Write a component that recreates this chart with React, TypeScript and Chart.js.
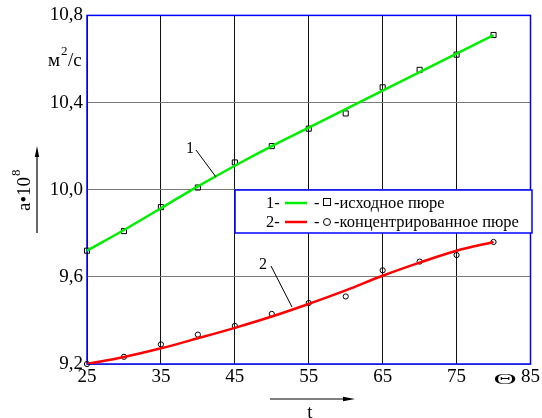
import React, { useEffect, useRef } from "react";
import { Chart, registerables } from "chart.js";

Chart.register(...registerables);

const tValues = [25, 30, 35, 40, 45, 50, 55, 60, 65, 70, 75, 80];
const series1Points = [9.72, 9.81, 9.92, 10.01, 10.125, 10.2, 10.28, 10.35, 10.47, 10.55, 10.62, 10.71];
const series2Points = [9.2, 9.233, 9.29, 9.335, 9.375, 9.43, 9.48, 9.51, 9.63, 9.67, 9.7, 9.76];
const series1Fit = [9.72, 9.815, 9.915, 10.015, 10.11, 10.2, 10.285, 10.37, 10.455, 10.54, 10.625, 10.71];
const series2Fit = [9.2, 9.232, 9.272, 9.318, 9.366, 9.418, 9.476, 9.538, 9.605, 9.665, 9.72, 9.76];
const xTicks = [25, 35, 45, 55, 65, 75, 85];
const yTicks = [9.2, 9.6, 10.0, 10.4, 10.8];
const legendLabels = ["-исходное пюре", "-концентрированное пюре"];

const SERIF = '"Liberation Serif", serif';

const toXY = (ys: number[]) => tValues.map((x, i) => ({ x, y: ys[i] }));

export default function App() {
  const ref = useRef<HTMLCanvasElement>(null);

  useEffect(() => {
    let chart: any = null;
    let cancelled = false;

    const frame = {
      id: "frame",
      beforeDatasetsDraw(c: any) {
        const { ctx, chartArea: a } = c;
        ctx.save();
        ctx.strokeStyle = "#0000ff";
        ctx.lineWidth = 1.5;
        ctx.strokeRect(a.left, a.top, a.right - a.left, a.bottom - a.top);
        ctx.restore();
      },
    };

    const overlay = {
      id: "overlay",
      afterDraw(c: any) {
        const { ctx } = c;
        ctx.save();
        ctx.fillStyle = "#000";
        ctx.strokeStyle = "#000";
        ctx.textBaseline = "alphabetic";

        // unit м²/с
        ctx.font = `19px ${SERIF}`;
        ctx.textAlign = "left";
        ctx.fillText("м", 48, 66);
        const w = ctx.measureText("м").width;
        ctx.font = `13px ${SERIF}`;
        ctx.fillText("2", 48 + w + 1, 55);
        const w2 = ctx.measureText("2").width;
        ctx.font = `19px ${SERIF}`;
        ctx.fillText("/с", 48 + w + w2 + 1.5, 66);

        // y axis title a•10^8 (rotated)
        ctx.save();
        ctx.translate(30, 190);
        ctx.rotate(-Math.PI / 2);
        ctx.font = `19px ${SERIF}`;
        ctx.textAlign = "left";
        const base = "a•10";
        const bw = ctx.measureText(base).width;
        ctx.fillText(base, -21, 0);
        ctx.font = `13px ${SERIF}`;
        ctx.fillText("8", -21 + bw + 1, -10);
        ctx.restore();

        // y arrow
        ctx.lineWidth = 1.2;
        ctx.beginPath();
        ctx.moveTo(37, 233);
        ctx.lineTo(37, 152);
        ctx.stroke();
        ctx.beginPath();
        ctx.moveTo(37, 146);
        ctx.lineTo(34.8, 157);
        ctx.lineTo(39.2, 157);
        ctx.closePath();
        ctx.fill();

        // x arrow and t
        ctx.beginPath();
        ctx.moveTo(270, 399);
        ctx.lineTo(348, 399);
        ctx.stroke();
        ctx.beginPath();
        ctx.moveTo(355, 399);
        ctx.lineTo(343, 396.8);
        ctx.lineTo(343, 401.2);
        ctx.closePath();
        ctx.fill();
        ctx.font = `19px ${SERIF}`;
        ctx.textAlign = "center";
        ctx.fillText("t", 310, 418);

        // theta symbol near 85
        ctx.save();
        ctx.translate(505, 384);
        ctx.scale(2.0, 0.85);
        ctx.font = `16px ${SERIF}`;
        ctx.textAlign = "center";
        ctx.fillText("Θ", 0, 0);
        ctx.restore();

        // curve annotations
        ctx.font = `16px ${SERIF}`;
        ctx.textAlign = "center";
        ctx.fillText("1", 190, 153);
        ctx.fillText("2", 263, 269);
        ctx.lineWidth = 1;
        ctx.beginPath();
        ctx.moveTo(196, 150);
        ctx.lineTo(216, 177);
        ctx.moveTo(271, 266);
        ctx.lineTo(292, 307);
        ctx.stroke();

        // legend box
        const lx = 235, ly = 190, lw = 297, lh = 43;
        ctx.fillStyle = "#fff";
        ctx.fillRect(lx, ly, lw, lh);
        ctx.strokeStyle = "#0000ff";
        ctx.lineWidth = 1.5;
        ctx.strokeRect(lx, ly, lw, lh);

        const rows = [
          { num: "1-", color: "#00ee00", marker: "rect", label: legendLabels[0], y: 208 },
          { num: "2-", color: "#ff0000", marker: "circle", label: legendLabels[1], y: 227 },
        ];
        ctx.font = `16.5px ${SERIF}`;
        ctx.textAlign = "left";
        for (const r of rows) {
          ctx.fillStyle = "#000";
          ctx.fillText(r.num, 266, r.y);
          ctx.strokeStyle = r.color;
          ctx.lineWidth = 2.5;
          ctx.beginPath();
          ctx.moveTo(285, r.y - 5);
          ctx.lineTo(307, r.y - 5);
          ctx.stroke();
          ctx.fillStyle = "#000";
          ctx.fillText("-", 314, r.y);
          ctx.strokeStyle = "#000";
          ctx.lineWidth = 1;
          if (r.marker === "rect") {
            ctx.strokeRect(323.5, r.y - 9.5, 7, 7);
          } else {
            ctx.beginPath();
            ctx.arc(327, r.y - 5, 3.5, 0, Math.PI * 2);
            ctx.stroke();
          }
          ctx.fillText(r.label, 334, r.y);
        }
        ctx.restore();
      },
    };

    const build = () => {
      if (cancelled || !ref.current) return;
      chart = new Chart(ref.current as HTMLCanvasElement, {
        type: "line",
        data: {
          datasets: [
            {
              data: toXY(series1Fit),
              borderColor: "#00ee00",
              borderWidth: 2.5,
              pointRadius: 0,
              tension: 0.4,
              fill: false,
            },
            {
              data: toXY(series2Fit),
              borderColor: "#ff0000",
              borderWidth: 2.5,
              pointRadius: 0,
              tension: 0.4,
              fill: false,
            },
            {
              data: toXY(series1Points),
              showLine: false,
              pointStyle: "rect",
              pointRadius: 3.6,
              pointBorderColor: "#000",
              pointBorderWidth: 1,
              pointBackgroundColor: "rgba(0,0,0,0)",
              borderColor: "#000",
              clip: false,
            },
            {
              data: toXY(series2Points),
              showLine: false,
              pointStyle: "circle",
              pointRadius: 2.6,
              pointBorderColor: "#000",
              pointBorderWidth: 1,
              pointBackgroundColor: "rgba(0,0,0,0)",
              borderColor: "#000",
              clip: false,
            },
          ] as any,
        },
        options: {
          animation: false,
          responsive: true,
          maintainAspectRatio: false,
          layout: { padding: { left: 0, top: 15, right: 10, bottom: 0 } },
          plugins: { legend: { display: false }, tooltip: { enabled: false } },
          scales: {
            x: {
              type: "linear",
              min: 25,
              max: 85,
              afterFit: (s: any) => {
                s.height = 54;
              },
              afterBuildTicks: (s: any) => {
                s.ticks = xTicks.map((v) => ({ value: v }));
              },
              ticks: {
                font: { family: SERIF, size: 19 },
                color: "#000",
                padding: 2,
                maxRotation: 0,
                callback: (v: any) => String(v),
              },
              grid: { color: "#111", lineWidth: 1, drawTicks: false },
              border: { display: false },
            },
            y: {
              type: "linear",
              min: 9.2,
              max: 10.8,
              afterFit: (s: any) => {
                s.width = 87;
              },
              afterBuildTicks: (s: any) => {
                s.ticks = yTicks.map((v) => ({ value: v }));
              },
              ticks: {
                font: { family: SERIF, size: 19 },
                color: "#000",
                padding: 4,
                callback: (v: any) => Number(v).toFixed(1).replace(".", ","),
              },
              grid: { color: "#7a7a7a", lineWidth: 1, drawTicks: false },
              border: { display: false },
            },
          },
        } as any,
        plugins: [frame, overlay],
      });
    };

    const fonts: any = (document as any).fonts;
    if (fonts && fonts.load) {
      Promise.all([
        fonts.load('19px "Liberation Serif"', "10,8 м/с пюре"),
        fonts.load('16px "Liberation Serif"', "Θ12"),
      ])
        .catch(() => null)
        .then(build);
    } else {
      build();
    }

    return () => {
      cancelled = true;
      if (chart) chart.destroy();
    };
  }, []);

  return (
    <div style={{ position: "fixed", left: 0, top: 0, width: 542, height: 418, background: "#fff" }}>
      <canvas ref={ref} />
    </div>
  );
}
